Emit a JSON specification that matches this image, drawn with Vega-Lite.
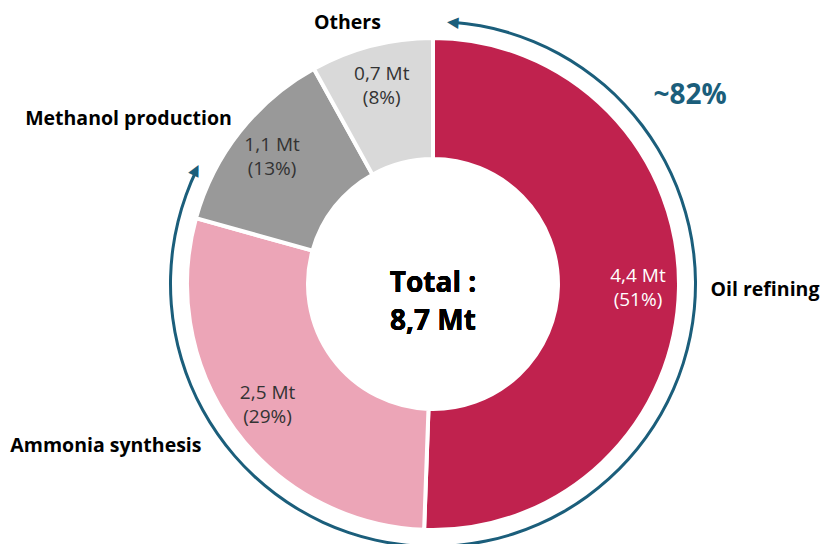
{
  "$schema": "https://vega.github.io/schema/vega-lite/v6.json",
  "autosize": "none",
  "width": 774,
  "height": 520,
  "padding": {"left": 46, "top": 24, "right": 0, "bottom": 0},
  "background": "white",
  "config": {"view": {"stroke": null}, "text": {"font": "Open Sans"}},
  "datasets": {
    "sectors": [
      {"rank": 1, "category": "Oil refining", "value": 4.4, "line1": "4,4 Mt", "line2": "(51%)"},
      {"rank": 2, "category": "Ammonia synthesis", "value": 2.5, "line1": "2,5 Mt", "line2": "(29%)"},
      {"rank": 3, "category": "Methanol production", "value": 1.1, "line1": "1,1 Mt", "line2": "(13%)"},
      {"rank": 4, "category": "Others", "value": 0.7, "line1": "0,7 Mt", "line2": "(8%)"}
    ],
    "arrow": [
      {"from": 0.012, "to": 0.822, "label": "~82%"}
    ]
  },
  "layer": [
    {
      "data": {"name": "sectors"},
      "mark": {"type": "arc", "innerRadius": 125, "outerRadius": 246, "stroke": "white", "strokeWidth": 4},
      "encoding": {
        "theta": {"field": "value", "type": "quantitative", "stack": true},
        "order": {"field": "rank", "type": "quantitative"},
        "color": {
          "field": "category", "type": "nominal", "legend": null,
          "scale": {
            "domain": ["Oil refining", "Ammonia synthesis", "Methanol production", "Others"],
            "range": ["#C0224E", "#ECA5B7", "#999999", "#D9D9D9"]
          }
        }
      }
    },
    {
      "data": {"name": "sectors"},
      "mark": {"type": "text", "fontSize": 19, "radius": 205, "dy": -12, "baseline": "middle"},
      "encoding": {
        "theta": {"field": "value", "type": "quantitative", "stack": true},
        "order": {"field": "rank", "type": "quantitative"},
        "text": {"field": "line1"},
        "color": {"condition": {"test": "datum.category === 'Oil refining'", "value": "white"}, "value": "#333333"}
      }
    },
    {
      "data": {"name": "sectors"},
      "mark": {"type": "text", "fontSize": 19, "radius": 205, "dy": 12, "baseline": "middle"},
      "encoding": {
        "theta": {"field": "value", "type": "quantitative", "stack": true},
        "order": {"field": "rank", "type": "quantitative"},
        "text": {"field": "line2"},
        "color": {"condition": {"test": "datum.category === 'Oil refining'", "value": "white"}, "value": "#333333"}
      }
    },
    {
      "data": {"name": "sectors"},
      "mark": {"type": "text", "fontSize": 19.5, "fontWeight": "bold", "color": "black", "radius": 332},
      "encoding": {
        "theta": {"field": "value", "type": "quantitative", "stack": true},
        "order": {"field": "rank", "type": "quantitative"},
        "text": {"condition": {"test": "datum.category === 'Oil refining'", "field": "category"}, "value": ""}
      }
    },
    {
      "data": {"name": "sectors"},
      "mark": {"type": "text", "fontSize": 19.5, "fontWeight": "bold", "color": "black", "radius": 300, "dx": -85, "dy": -15},
      "encoding": {
        "theta": {"field": "value", "type": "quantitative", "stack": true},
        "order": {"field": "rank", "type": "quantitative"},
        "text": {"condition": {"test": "datum.category === 'Ammonia synthesis'", "field": "category"}, "value": ""}
      }
    },
    {
      "data": {"name": "sectors"},
      "mark": {"type": "text", "fontSize": 19.5, "fontWeight": "bold", "color": "black", "radius": 300, "dx": -69, "dy": 21},
      "encoding": {
        "theta": {"field": "value", "type": "quantitative", "stack": true},
        "order": {"field": "rank", "type": "quantitative"},
        "text": {"condition": {"test": "datum.category === 'Methanol production'", "field": "category"}, "value": ""}
      }
    },
    {
      "data": {"name": "sectors"},
      "mark": {"type": "text", "fontSize": 19.5, "fontWeight": "bold", "color": "black", "radius": 270, "dx": -18, "dy": 0},
      "encoding": {
        "theta": {"field": "value", "type": "quantitative", "stack": true},
        "order": {"field": "rank", "type": "quantitative"},
        "text": {"condition": {"test": "datum.category === 'Others'", "field": "category"}, "value": ""}
      }
    },
    {
      "data": {"name": "sectors"},
      "mark": {"type": "text", "fontSize": 28, "fontWeight": "bold", "color": "black", "lineBreak": "\n", "lineHeight": 38, "text": "Total :\n8,7 Mt"},
      "encoding": {}
    },
    {
      "data": {"name": "arrow"},
      "mark": {"type": "arc", "innerRadius": 261, "outerRadius": 264, "color": "#1B5E7B"},
      "encoding": {
        "theta": {"field": "from", "type": "quantitative", "scale": {"domain": [0, 1]}},
        "theta2": {"field": "to"}
      }
    },
    {
      "data": {"name": "arrow"},
      "mark": {"type": "text", "text": "◀", "fontSize": 15, "color": "#1B5E7B", "radius": 263, "angle": 4, "font": "DejaVu Sans", "baseline": "middle"},
      "encoding": {
        "theta": {"field": "from", "type": "quantitative", "scale": {"domain": [0, 1]}}
      }
    },
    {
      "data": {"name": "arrow"},
      "mark": {"type": "text", "text": "▲", "fontSize": 15, "color": "#1B5E7B", "radius": 263, "angle": 27, "font": "DejaVu Sans", "baseline": "middle"},
      "encoding": {
        "theta": {"field": "to", "type": "quantitative", "scale": {"domain": [0, 1]}}
      }
    },
    {
      "data": {"name": "arrow"},
      "mark": {"type": "text", "fontSize": 28, "fontWeight": "bold", "color": "#1B5E7B", "dx": 257, "dy": -188},
      "encoding": {
        "text": {"field": "label"}
      }
    }
  ],
  "resolve": {"scale": {"theta": "independent"}}
}
